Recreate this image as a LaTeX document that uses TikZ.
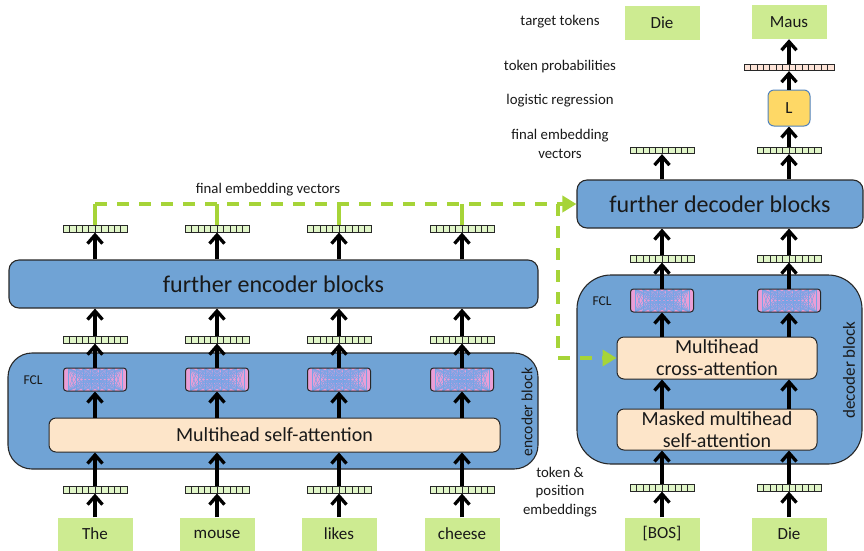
\documentclass[tikz,border=0pt]{standalone}
\usepackage{fontspec}
\setmainfont{Carlito}
\usetikzlibrary{arrows.meta,calc}

\definecolor{edge}{RGB}{40,40,40}
\definecolor{blockblue}{RGB}{112,163,213}
\definecolor{peach}{RGB}{253,229,201}
\definecolor{tokgreen}{RGB}{205,235,145}
\definecolor{vecfill}{RGB}{224,245,200}
\definecolor{probfill}{RGB}{253,228,216}
\definecolor{dashgreen}{RGB}{166,212,56}
\definecolor{lfill}{RGB}{254,216,102}
\definecolor{lborder}{RGB}{79,129,189}
\definecolor{fclpink}{RGB}{234,158,214}
\definecolor{fclblue}{RGB}{118,164,230}
\definecolor{txt}{RGB}{25,25,25}

\tikzset{
  block/.style={draw=edge, line width=1.1pt, fill=blockblue, rounded corners=10pt,
    inner sep=0pt, text=txt},
  attn/.style={draw=edge, line width=1pt, fill=peach, rounded corners=7pt, inner sep=0pt,
    align=center, text=txt, font=\fontsize{20}{22}\selectfont},
  token/.style={fill=tokgreen, minimum width=75pt, minimum height=33pt, inner sep=0pt,
    text=txt, font=\fontsize{17}{20}\selectfont},
  vecbox/.style={draw=edge, line width=0.7pt, fill=vecfill, minimum width=64pt,
    minimum height=6.5pt, inner sep=0pt,
    path picture={
      \pgfmathtruncatemacro\cellsminus{#1-1}
      \foreach \k in {1,...,\cellsminus}{
        \draw[edge, line width=0.6pt]
          ($(path picture bounding box.south west)!{\k/#1}!(path picture bounding box.south east)$) --
          ($(path picture bounding box.north west)!{\k/#1}!(path picture bounding box.north east)$);
      }}},
  fcl/.style={draw=edge, line width=1pt, fill=fclpink, rounded corners=3pt,
    minimum width=63pt, minimum height=23pt, inner sep=0pt,
    path picture={
      \foreach \i in {0,...,7}{
        \foreach \j in {0,...,7}{
          \draw[fclblue, line width=0.45pt]
            ($(path picture bounding box.north west)!{(\i+0.6)/8.2}!(path picture bounding box.north east)$) --
            ($(path picture bounding box.south west)!{(\j+0.6)/8.2}!(path picture bounding box.south east)$);
        }}}},
  sidelabel/.style={text=txt, inner sep=0pt, align=center,
    font=\fontsize{14.8}{18.5}\selectfont},
  blocklabel/.style={text=txt, inner sep=0pt, font=\fontsize{15.5}{18}\selectfont},
  flow/.style={draw=black, line width=3.3pt, -{Straight Barb[length=8.5pt,width=15pt]}},
  gline/.style={draw=dashgreen, line width=3.5pt},
  gdash/.style={gline, dash pattern=on 12pt off 10pt},
}

\begin{document}
\begin{tikzpicture}[x=1pt,y=-1pt]
\useasboundingbox (0,0) rectangle (864,550);

% ---------------- encoder side ----------------
\node[block, rounded corners=24pt, minimum width=530pt, minimum height=116pt] (encblk) at (273,411) {};
\node[attn, minimum width=451pt, minimum height=34pt] (msa) at (274.5,435) {Multihead self-attention};
\node[blocklabel, rotate=90] (enclbl) at (527,412) {encoder block};
\node[blocklabel, font=\fontsize{13.5}{16}\selectfont] (fclE) at (33,380) {FCL};

\node[block, minimum width=529pt, minimum height=48pt, font=\fontsize{24}{28}\selectfont]
  (fenc) at (273.5,284) {further encoder blocks};

\coordinate (gy) at (0,204);

\foreach \cx/\w/\n in {95/The/a, 217/mouse/b, 339/likes/c, 462/cheese/d}{
  \node[token] (tok\n) at (\cx,534) {\w};
  \node[vecbox=10] (va\n) at (\cx,490) {};
  \node[fcl] (fcl\n) at (\cx,379.5) {};
  \node[vecbox=10] (vb\n) at (\cx,340) {};
  \node[vecbox=10] (vc\n) at (\cx,229) {};
  \draw[flow] (tok\n.north) -- (va\n.south);
  \draw[flow] (va\n.north) -- (va\n.north |- msa.south);
  \draw[flow] (fcl\n.south |- msa.north) -- (fcl\n.south);
  \draw[flow] (fcl\n.north) -- (vb\n.south);
  \draw[flow] (vb\n.north) -- (vb\n.north |- fenc.south);
  \draw[flow] (vc\n.south |- fenc.north) -- (vc\n.south);
  \draw[gline] (vc\n.north) -- (vc\n.north |- gy);
}

% ---------------- decoder side ----------------
\node[block, rounded corners=34pt, minimum width=285pt, minimum height=189pt] (decblk) at (719.5,369.5) {};
\node[attn, minimum width=200pt, minimum height=42pt] (mca) at (717,358) {Multihead\\cross-attention};
\node[attn, minimum width=200pt, minimum height=41pt] (mmsa) at (717,429.5) {Masked multihead\\self-attention};
\node[blocklabel, rotate=90, font=\fontsize{17}{20}\selectfont] (declbl) at (849,370) {decoder block};
\node[blocklabel, font=\fontsize{13.5}{16}\selectfont] (fclD) at (602,301) {FCL};

\node[block, minimum width=286pt, minimum height=48pt, font=\fontsize{24}{28}\selectfont]
  (fdec) at (720,204) {further decoder blocks};

\foreach \cx/\w/\n in {662/{[BOS]}/p, 789/Die/q}{
  \node[token] (tok\n) at (\cx,534) {\w};
  \node[vecbox=10] (vd\n) at (\cx,488) {};
  \node[fcl] (fcl\n) at (\cx,300.5) {};
  \node[vecbox=10] (ve\n) at (\cx,259) {};
  \node[vecbox=10] (vf\n) at (\cx,150.5) {};
  \draw[flow] (tok\n.north) -- (vd\n.south);
  \draw[flow] (vd\n.north) -- (vd\n.north |- mmsa.south);
  \draw[flow] (vd\n.north |- mmsa.north) -- (vd\n.north |- mca.south);
  \draw[flow] (fcl\n.south |- mca.north) -- (fcl\n.south);
  \draw[flow] (fcl\n.north) -- (ve\n.south);
  \draw[flow] (ve\n.north) -- (ve\n.north |- fdec.south);
  \draw[flow] (vf\n.south |- fdec.north) -- (vf\n.south);
}

% output head
\node[draw=lborder, line width=1pt, fill=lfill, rounded corners=6pt, minimum width=42pt,
  minimum height=36pt, inner sep=0pt, text=txt, font=\fontsize{17}{20}\selectfont] (lreg) at (789,108) {L};
\node[vecbox=14, fill=probfill, minimum width=90pt] (prob) at (789,67.5) {};
\node[token, minimum height=34pt] (outDie) at (662,23) {Die};
\node[token, minimum height=34pt] (outMaus) at (789,22) {Maus};
\draw[flow] (vfq.north) -- (lreg.south);
\draw[flow] (lreg.north) -- (prob.south);
\draw[flow] (prob.north) -- (outMaus.south);

% side labels
\node[sidelabel] (lblTarget) at (560,22) {target tokens};
\node[sidelabel] (lblProb) at (560,67) {token probabilities};
\node[sidelabel] (lblLogit) at (560,101) {logistic regression};
\node[sidelabel] (lblFinal) at (560,144) {final embedding\\vectors};
\node[sidelabel] (lblEmb) at (560,492) {token \&\\position\\embeddings};
\node[sidelabel] (lblEnc) at (268,190) {final embedding vectors};

% encoder output routed to the decoder
\coordinate (gstart) at (vca.north |- gy);
\coordinate (gbranch) at (558,204);
\draw[gdash, -{Triangle[length=14pt,width=16pt]}] (gstart) -- (fdec.west);
\draw[gdash, -{Triangle[length=14pt,width=16pt]}] (gbranch) |- (mca.west);

\end{tikzpicture}
\end{document}
